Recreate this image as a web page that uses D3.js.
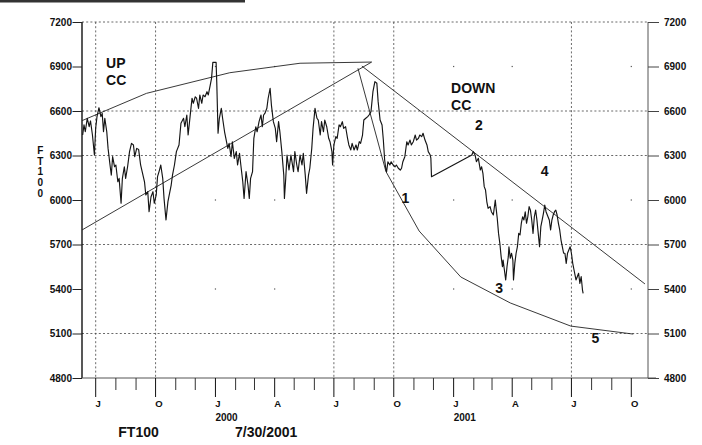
<!DOCTYPE html>
<html><head><meta charset="utf-8">
<script src="https://cdn.jsdelivr.net/npm/d3@7"></script>
<style>
body{margin:0;background:#fff}
svg{display:block}
text{font-family:"Liberation Sans",Arial,Helvetica,sans-serif;font-weight:bold;fill:#111}
</style>
</head><body><svg id="c" width="702" height="445"></svg>
<script>
// ---------------- DATA ----------------
const priceDates = [
"1999-06-11","1999-06-13","1999-06-15","1999-06-18","1999-06-21","1999-06-23","1999-06-26","1999-06-29",
"1999-07-01","1999-07-03","1999-07-06","1999-07-09","1999-07-11","1999-07-13","1999-07-15","1999-07-18",
"1999-07-20","1999-07-23","1999-07-25","1999-07-27","1999-07-30","1999-08-01","1999-08-04","1999-08-06",
"1999-08-09","1999-08-11","1999-08-14","1999-08-16","1999-08-19","1999-08-22","1999-08-25","1999-08-28",
"1999-08-30","1999-09-02","1999-09-05","1999-09-08","1999-09-11","1999-09-14","1999-09-16","1999-09-19",
"1999-09-21","1999-09-24","1999-09-27","1999-09-29","1999-10-02","1999-10-04","1999-10-07","1999-10-09",
"1999-10-12","1999-10-14","1999-10-17","1999-10-20","1999-10-22","1999-10-25","1999-10-27","1999-10-30",
"1999-11-02","1999-11-06","1999-11-09","1999-11-13","1999-11-15","1999-11-18","1999-11-20","1999-11-23",
"1999-11-26","1999-11-28","1999-12-01","1999-12-03","1999-12-06","1999-12-08","1999-12-11","1999-12-13",
"1999-12-16","1999-12-19","1999-12-21","1999-12-24","1999-12-26","1999-12-28","2000-01-02","2000-01-03",
"2000-01-05","2000-01-07","2000-01-10","2000-01-12","2000-01-15","2000-01-17","2000-01-20","2000-01-22",
"2000-01-25","2000-01-27","2000-01-30","2000-02-02","2000-02-04","2000-02-07","2000-02-09","2000-02-12",
"2000-02-14","2000-02-17","2000-02-20","2000-02-22","2000-02-24","2000-02-27","2000-02-29","2000-03-03",
"2000-03-05","2000-03-08","2000-03-11","2000-03-13","2000-03-15","2000-03-17","2000-03-20","2000-03-22",
"2000-03-25","2000-03-27","2000-03-30","2000-04-02","2000-04-04","2000-04-07","2000-04-09","2000-04-12",
"2000-04-15","2000-04-16","2000-04-18","2000-04-20","2000-04-23","2000-04-26","2000-04-30","2000-05-02",
"2000-05-05","2000-05-07","2000-05-10","2000-05-13","2000-05-15","2000-05-18","2000-05-20","2000-05-23",
"2000-05-25","2000-05-28","2000-05-30","2000-06-02","2000-06-05","2000-06-07","2000-06-10","2000-06-12",
"2000-06-15","2000-06-17","2000-06-20","2000-06-23","2000-06-25","2000-06-28","2000-06-29","2000-07-01",
"2000-07-04","2000-07-06","2000-07-09","2000-07-11","2000-07-14","2000-07-16","2000-07-19","2000-07-22",
"2000-07-24","2000-07-27","2000-07-29","2000-08-01","2000-08-04","2000-08-06","2000-08-09","2000-08-11",
"2000-08-14","2000-08-16","2000-08-19","2000-08-22","2000-08-24","2000-08-27","2000-08-30","2000-09-02",
"2000-09-05","2000-09-07","2000-09-10","2000-09-13","2000-09-15","2000-09-17","2000-09-19","2000-09-20",
"2000-09-22","2000-09-25","2000-09-27","2000-09-30","2000-10-03","2000-10-05","2000-10-08","2000-10-11",
"2000-10-13","2000-10-15","2000-10-18","2000-10-21","2000-10-23","2000-10-26","2000-10-28","2000-10-31",
"2000-11-03","2000-11-05","2000-11-08","2000-11-10","2000-11-13","2000-11-15","2000-11-18","2000-11-21",
"2000-11-23","2000-11-26","2000-11-27","2000-11-28",
"2001-01-29","2001-01-31","2001-02-03","2001-02-05","2001-02-08","2001-02-11","2001-02-13","2001-02-15",
"2001-02-17","2001-02-19","2001-02-21","2001-02-23","2001-02-26","2001-02-28","2001-03-03","2001-03-06",
"2001-03-07","2001-03-09","2001-03-11","2001-03-13","2001-03-15","2001-03-17","2001-03-18","2001-03-20",
"2001-03-22","2001-03-24","2001-03-26","2001-03-27","2001-03-29","2001-03-31","2001-04-02","2001-04-03",
"2001-04-05","2001-04-07","2001-04-09","2001-04-11","2001-04-13","2001-04-15","2001-04-17","2001-04-19",
"2001-04-21","2001-04-23","2001-04-25","2001-04-27","2001-04-29","2001-05-01","2001-05-03","2001-05-05",
"2001-05-07","2001-05-09","2001-05-11","2001-05-13","2001-05-15","2001-05-17","2001-05-19","2001-05-21",
"2001-05-23","2001-05-26","2001-05-28","2001-05-30","2001-06-01","2001-06-03","2001-06-05","2001-06-07",
"2001-06-09","2001-06-11","2001-06-13","2001-06-15","2001-06-17","2001-06-19","2001-06-21","2001-06-23",
"2001-06-25","2001-06-27","2001-06-29","2001-07-01","2001-07-03","2001-07-05","2001-07-08","2001-07-10",
"2001-07-12","2001-07-14","2001-07-16","2001-07-18","2001-07-19"
];
const priceValues = [
6438,6506,6460,6551,6494,6533,6438,6303,
6485,6562,6622,6562,6584,6460,6551,6460,
6348,6236,6168,6292,6224,6236,6123,6146,
5978,6146,6224,6146,6224,6326,6382,6371,
6292,6348,6340,6236,6180,6123,6034,6056,
5921,6022,6056,5978,6034,6157,6202,6236,
6146,6011,5865,5989,6034,6101,6168,6236,
6326,6371,6517,6551,6494,6573,6438,6562,
6686,6652,6696,6686,6618,6708,6652,6708,
6696,6730,6708,6775,6820,6928,6928,6798,
6450,6551,6618,6551,6460,6416,6348,6382,
6292,6393,6281,6326,6236,6315,6236,6123,
6011,6191,6101,6011,6146,6191,6416,6494,
6460,6528,6573,6494,6573,6584,6618,6686,
6753,6640,6528,6483,6393,6528,6460,6326,
6168,6011,6146,6303,6202,6303,6191,6326,
6236,6191,6303,6236,6315,6168,6045,6168,
6214,6348,6483,6618,6551,6539,6438,6528,
6460,6539,6494,6416,6393,6326,6236,6371,
6427,6416,6506,6494,6528,6483,6494,6416,
6371,6337,6382,6337,6371,6337,6393,6382,
6438,6539,6551,6562,6573,6596,6730,6798,
6787,6663,6539,6506,6404,6270,6202,6191,
6258,6236,6258,6236,6224,6236,6214,6202,
6214,6258,6292,6393,6371,6404,6371,6393,
6438,6404,6416,6438,6427,6450,6404,6371,
6326,6303,6283,6157,
6303,6326,6303,6258,6281,6202,6224,6180,
6090,6067,5988,5944,5955,5921,5899,6000,
5955,5877,5775,5708,5618,5550,5595,5528,
5461,5550,5618,5685,5607,5641,5595,5461,
5573,5641,5685,5775,5764,5843,5887,5865,
5921,5843,5887,5955,5932,5865,5775,5887,
5932,5865,5775,5685,5820,5865,5910,5966,
5921,5887,5865,5798,5865,5899,5921,5932,
5899,5843,5798,5730,5685,5641,5641,5573,
5641,5663,5685,5641,5573,5528,5461,5483,
5506,5438,5483,5393,5371
];

// channel lines
const upCurveDates  = ["1999-06-10","1999-09-17","2000-01-23","2000-05-10","2000-08-28"];
const upCurveValues = [6535,6719,6858,6922,6930];
const upLineDates   = ["1999-06-10","2000-08-28"];
const upLineValues  = [5798,6930];
const dropLineDates = ["2000-08-07","2000-09-19"];
const dropLineValues= [6888,6192];
const downCurveDates  = ["2000-09-19","2000-11-09","2001-01-12","2001-03-29","2001-06-30","2001-10-04"];
const downCurveValues = [6192,5791,5481,5306,5150,5096];
const downLineDates  = ["2000-08-13","2001-10-22"];
const downLineValues = [6903,5434];

// axes
const yTicks = [4800,5100,5400,5700,6000,6300,6600,6900,7200];
const yGridValues = [5100,5700,6300,6600,7200];
const yDotValues = [5400,6000,6900];
const xGridDates = ["1999-07-01","1999-10-01","2000-07-01","2000-10-01","2001-07-01"];
const xDotDates  = ["2000-01-01","2000-04-01","2001-01-01","2001-04-01","2001-10-01"];
const monthLetter = {0:"J",3:"A",6:"J",9:"O"};
const yearLabels = ["2000","2001"];

// annotations (data coordinates)
const noteTexts  = ["UP","CC","DOWN","CC","2","4","1","3","5"];
const noteDates  = ["1999-07-17","1999-07-17","2000-12-28","2000-12-28","2001-02-03","2001-05-15","2000-10-13","2001-03-06","2001-08-01"];
const noteValues = [6888,6773,6719,6607,6472,6164,5980,5373,5036];

// ---------------- DRAW ----------------
const P = d3.timeParse("%Y-%m-%d");
const svg = d3.select("#c");
const L = 82, R = 648, T = 22, B = 378;

const x = d3.scaleTime().domain([P("1999-07-01"), P("2001-10-01")]).range([95.7, 631.3]);
const y = d3.scaleLinear().domain([4800, 7200]).range([B, T]);

// scan artefact rule at top
svg.append("rect").attr("x",0).attr("y",0).attr("width",245).attr("height",2.5).attr("fill","#333");

// grid
const g = svg.append("g");
g.selectAll(".hg").data(yGridValues).join("line")
  .attr("x1",L).attr("x2",R).attr("y1",d=>y(d)).attr("y2",d=>y(d))
  .attr("stroke","#444").attr("stroke-width",0.8).attr("stroke-dasharray","2,2.2");
g.selectAll(".vg").data(xGridDates).join("line")
  .attr("x1",d=>x(P(d))).attr("x2",d=>x(P(d))).attr("y1",T).attr("y2",B)
  .attr("stroke","#444").attr("stroke-width",0.8).attr("stroke-dasharray","2,2.2");
const dots = [];
xDotDates.forEach(d=>yDotValues.forEach(v=>dots.push([d,v])));
g.selectAll(".dt").data(dots).join("rect")
  .attr("x",d=>x(P(d[0]))-0.6).attr("y",d=>y(d[1])-0.6).attr("width",1.2).attr("height",1.2).attr("fill","#555");

// axes frame
svg.append("line").attr("x1",L).attr("x2",L).attr("y1",T).attr("y2",B).attr("stroke","#111").attr("stroke-width",1.4);
svg.append("line").attr("x1",R).attr("x2",R).attr("y1",T).attr("y2",B).attr("stroke","#555").attr("stroke-width",1);
svg.append("line").attr("x1",L).attr("x2",R+8).attr("y1",B).attr("y2",B).attr("stroke","#555").attr("stroke-width",1);

// y axes using d3 axes
const yl = svg.append("g").attr("transform",`translate(${L},0)`)
  .call(d3.axisLeft(y).tickValues(yTicks).tickSize(9.5).tickPadding(0.5).tickFormat(d3.format("d")));
const yr = svg.append("g").attr("transform",`translate(${R},0)`)
  .call(d3.axisRight(y).tickValues(yTicks).tickSize(11).tickPadding(5).tickFormat(d3.format("d")));
[yl,yr].forEach(a=>{
  a.attr("font-size",null).attr("font-family",null);
  a.select(".domain").remove();
  a.selectAll("line").attr("stroke","#222").attr("stroke-width",1);
  a.selectAll("text").style("font-family",'"Liberation Sans",Arial,sans-serif').style("font-weight","bold")
   .style("font-size","10px").attr("fill","#111");
});
yr.selectAll("line").attr("stroke","#444");

// x ticks
const months = d3.timeMonth.range(P("1999-07-01"), P("2001-10-02"));
const xt = svg.append("g");
xt.selectAll("line").data(months).join("line")
  .attr("x1",d=>x(d)).attr("x2",d=>x(d)).attr("y1",B)
  .attr("y2",d=> d.getMonth()%3===0 ? 397 : 390)
  .attr("stroke",d=> d.getMonth()%3===0 ? "#111" : "#333").attr("stroke-width",1);
xt.selectAll("text.m").data(months.filter(d=>d.getMonth()%3===0)).join("text")
  .attr("class","m").attr("x",d=>x(d)-0.3).attr("y",406.5)
  .style("font-size","9.5px").text(d=>monthLetter[d.getMonth()]);
xt.selectAll("text.yr").data(yearLabels).join("text")
  .attr("class","yr").attr("x",d=>x(P(d+"-01-01"))).attr("y",420.5)
  .style("font-size","10px").text(d=>d);

// y axis title stacked
const title = "FT100".split("");
svg.append("g").selectAll("text").data(title).join("text")
  .attr("x",40.3).attr("y",(d,i)=>154+i*10.7).attr("text-anchor","middle")
  .style("font-size","10px").text(d=>d);

// bottom labels
svg.append("text").attr("x",118.3).attr("y",437.3).style("font-size","14px").text("FT100");
svg.append("text").attr("x",235).attr("y",437.3).style("font-size","14px").text("7/30/2001");

// channel lines
const line = d3.line().x(d=>x(d[0])).y(d=>y(d[1]));
const zip = (ds,vs)=>ds.map((d,i)=>[P(d),vs[i]]);
[[upCurveDates,upCurveValues],[upLineDates,upLineValues],[dropLineDates,dropLineValues],
 [downCurveDates,downCurveValues],[downLineDates,downLineValues]].forEach(([ds,vs])=>{
  svg.append("path").attr("d",line(zip(ds,vs))).attr("fill","none").attr("stroke","#222").attr("stroke-width",0.9);
});

// price series
svg.append("path").attr("d",line(zip(priceDates,priceValues)))
  .attr("fill","none").attr("stroke","#151515").attr("stroke-width",1.15).attr("stroke-linejoin","round");

// annotations
svg.append("g").selectAll("text").data(noteTexts).join("text")
  .attr("x",(d,i)=>x(P(noteDates[i]))).attr("y",(d,i)=>y(noteValues[i]))
  .style("font-size","14px").text(d=>d);
</script></body></html>
